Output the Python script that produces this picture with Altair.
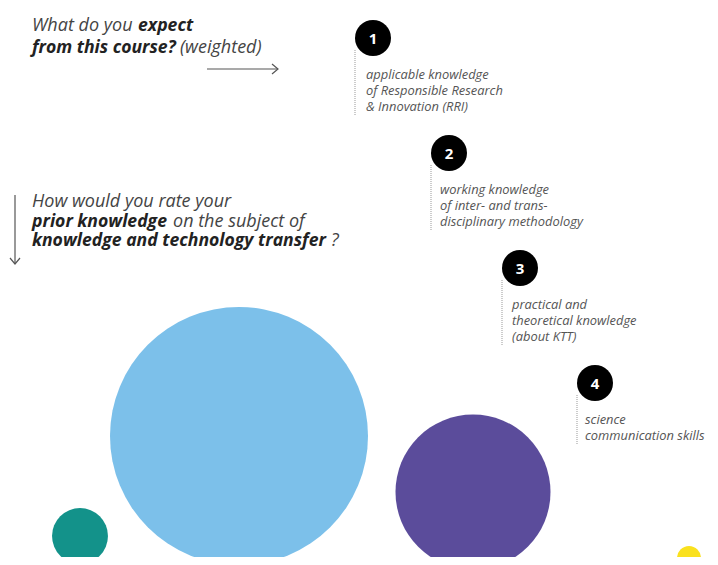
import math
import altair as alt
import pandas as pd

# ---------------- data ----------------
# bubbles: prior knowledge rating vs. expectation (weighted)
bubble_names = ["none", "basic", "intermediate", "advanced"]
bubble_x = [80, 239, 473, 689]
bubble_y = [536, 436, 492, 558]
bubble_value = [4.7, 100, 36.1, 0.86]
bubble_colors = ["#13928a", "#7cc0ea", "#5b4c9b", "#fae11e"]

# numbered expectation markers
marker_num = ["1", "2", "3", "4"]
marker_x = [373, 449, 520, 595]
marker_y = [38, 153, 268, 383]
marker_label_x = [366, 440, 512, 585]
marker_labels = [
    ["applicable knowledge", "of Responsible Research", "& Innovation (RRI)"],
    ["working knowledge", "of inter- and trans-", "disciplinary methodology"],
    ["practical and", "theoretical knowledge", "(about KTT)"],
    ["science", "communication skills"],
]

# heading text segments: (text, x, y, bold)
heading_text = ["What do you", "expect", "from this course?", "(weighted)",
                "How would you rate your", "prior knowledge", "on the subject of",
                "knowledge and technology transfer", "?"]
heading_x = [32, 138, 32, 180, 32, 32, 173, 32, 331]
heading_y = [31, 31, 53, 53, 207, 227, 227, 246, 246]
heading_bold = [False, True, True, False, False, True, False, True, False]

# arrows
arrow_right = {"x": [207, 278], "y": [69, 69]}
arrow_down = {"x": [15, 15], "y": [195, 264]}

# ---------------- chart ----------------
W, H = 702, 549
xs = alt.Scale(domain=[8, 8 + W], nice=False, zero=False)
ys = alt.Scale(domain=[8, 8 + H], nice=False, zero=False, reverse=True)
X = lambda f: alt.X(f"{f}:Q", scale=xs, axis=None)
Y = lambda f: alt.Y(f"{f}:Q", scale=ys, axis=None)

bubbles = pd.DataFrame({"name": bubble_names, "x": bubble_x, "y": bubble_y,
                        "v": bubble_value})
# symbol size is the area of the bounding square: (2r)^2
bubble_layer = alt.Chart(bubbles).mark_circle(opacity=1).encode(
    x=X("x"), y=Y("y"),
    size=alt.Size("v:Q", scale=alt.Scale(domain=[0, 100], range=[0, (2 * 129) ** 2]),
                  legend=None),
    color=alt.Color("name:N", scale=alt.Scale(domain=bubble_names, range=bubble_colors),
                    legend=None),
)

markers = pd.DataFrame({"n": marker_num, "x": marker_x, "y": marker_y})
marker_layer = alt.Chart(markers).mark_circle(color="#000000", opacity=1,
                                              size=(2 * 18) ** 2).encode(
    x=X("x"), y=Y("y"))
marker_text = alt.Chart(markers).mark_text(
    color="white", font="Open Sans", fontWeight="bold", fontSize=15,
    baseline="middle", align="center", dy=1).encode(
    x=X("x"), y=Y("y"), text="n:N")

rows = []
dots = []
for i, lines in enumerate(marker_labels):
    for j, t in enumerate(lines):
        rows.append({"t": t, "x": marker_label_x[i], "y": marker_y[i] + 41 + 16 * j})
    dots.append({"x": marker_x[i] - 18, "y": marker_y[i] + 12,
                 "y2": marker_y[i] + 41 + 16 * (len(lines) - 1) + 4})
label_layer = alt.Chart(pd.DataFrame(rows)).mark_text(
    font="Open Sans", fontStyle="italic", fontSize=12.9, color="#555555",
    align="left", baseline="alphabetic").encode(x=X("x"), y=Y("y"), text="t:N")
dot_layer = alt.Chart(pd.DataFrame(dots)).mark_rule(
    color="#999999", strokeDash=[1, 1], strokeWidth=1).encode(
    x=X("x"), y=Y("y"), y2="y2:Q")

head = pd.DataFrame({"t": heading_text, "x": heading_x, "y": heading_y,
                     "b": heading_bold})
head_norm = alt.Chart(head[~head.b]).mark_text(
    font="Open Sans", fontStyle="italic", fontSize=18, color="#444444",
    align="left", baseline="alphabetic").encode(x=X("x"), y=Y("y"), text="t:N")
head_bold = alt.Chart(head[head.b]).mark_text(
    font="Open Sans", fontStyle="italic", fontWeight="bold", fontSize=17.6,
    color="#222222", align="left", baseline="alphabetic").encode(
    x=X("x"), y=Y("y"), text="t:N")

shafts = pd.DataFrame({"x": [arrow_right["x"][0], arrow_down["x"][0]],
                       "x2": [arrow_right["x"][1], arrow_down["x"][1]],
                       "y": [arrow_right["y"][0], arrow_down["y"][0]],
                       "y2": [arrow_right["y"][1], arrow_down["y"][1]]})
shaft_layer = alt.Chart(shafts).mark_rule(color="#555555", strokeWidth=1.2).encode(
    x=X("x"), x2="x2:Q", y=Y("y"), y2="y2:Q")

rx, ry = arrow_right["x"][1], arrow_right["y"][1]
dx_, dy_ = arrow_down["x"][1], arrow_down["y"][1]
heads = pd.DataFrame({
    "g": ["r", "r", "r", "d", "d", "d"],
    "o": [0, 1, 2, 0, 1, 2],
    "x": [rx - 6, rx, rx - 6, dx_ - 5, dx_, dx_ + 5],
    "y": [ry - 5, ry, ry + 5, dy_ - 6, dy_, dy_ - 6],
})
head_layer = alt.Chart(heads).mark_line(color="#555555", strokeWidth=1.2).encode(
    x=X("x"), y=Y("y"), detail="g:N", order="o:Q")

chart = alt.layer(
    bubble_layer, dot_layer, marker_layer, marker_text, label_layer,
    head_norm, head_bold, shaft_layer, head_layer,
).properties(
    width=W, height=H, padding=0, background="white",
    autosize=alt.AutoSizeParams(type="none"),
).configure_view(stroke=None)

chart.save("out.html", embed_options={"renderer": "svg", "actions": False})
